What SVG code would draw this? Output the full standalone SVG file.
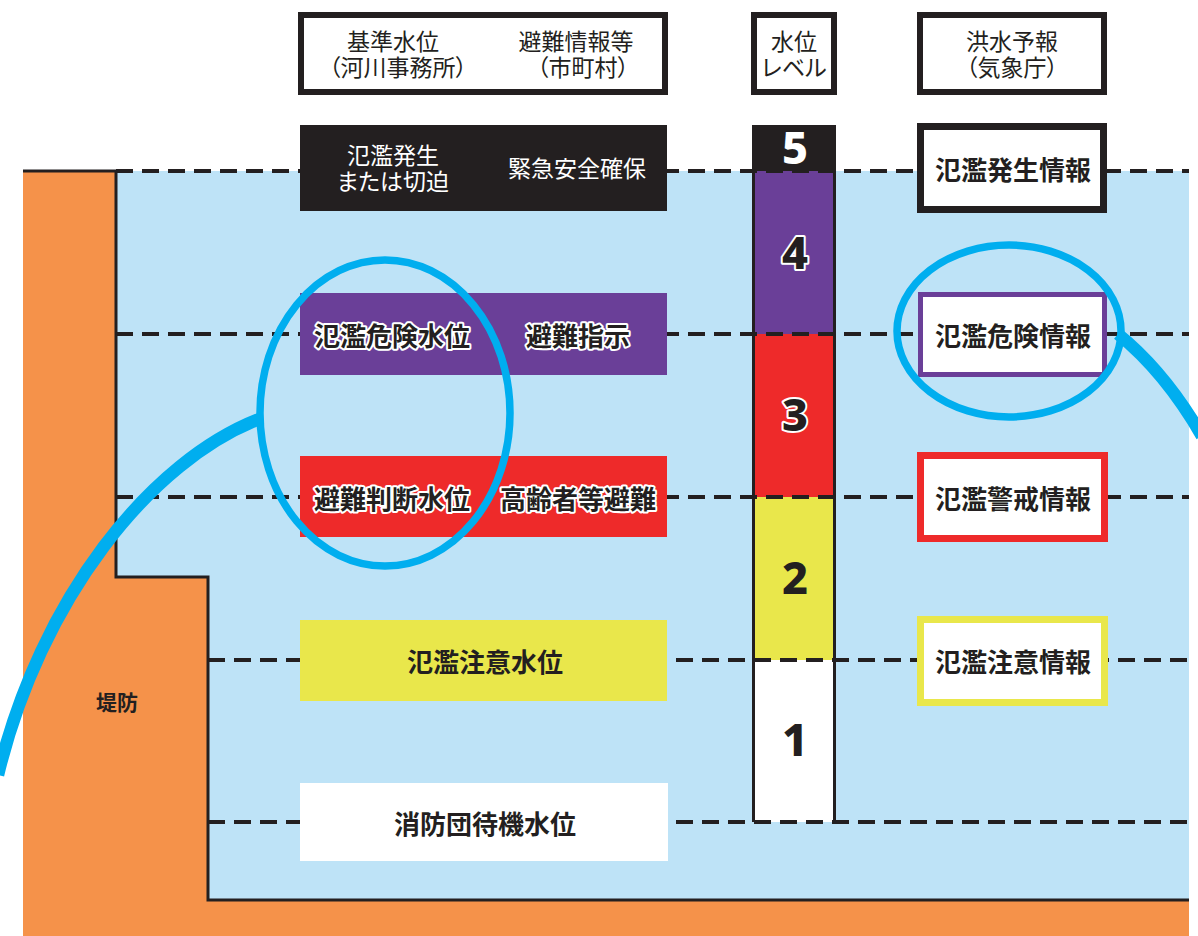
<svg xmlns="http://www.w3.org/2000/svg" width="1198" height="936" viewBox="0 0 1198 936">
  <style>
    .hdr { font-family: "Liberation Sans", "Noto Sans CJK JP", sans-serif; font-size: 23px; font-weight: 400; fill: #231f20; text-anchor: middle; font-feature-settings: "palt"; }
    .lbl { font-family: "Noto Sans CJK JP", "Noto Sans", sans-serif; font-size: 26px; font-weight: 700; fill: #231f20; text-anchor: middle; dominant-baseline: central; }
    .wht { fill: #ffffff; font-weight: 400; font-size: 23px; font-feature-settings: "palt"; }
    .out { stroke: #ffffff; stroke-width: 4px; paint-order: stroke; stroke-linejoin: round; }
    .num { font-family: "Noto Sans", "DejaVu Sans", sans-serif; font-size: 45px; font-weight: 800; fill: #231f20; text-anchor: middle; }
    .dash { stroke: #231f20; stroke-width: 4; stroke-dasharray: 17 9; fill: none; }
    .loop { fill: none; stroke: #00aeef; stroke-width: 7.5; }
    .handle { fill: none; stroke: #00aeef; stroke-width: 12.5; }
  </style>

  <rect x="0" y="0" width="1198" height="936" fill="#ffffff"/>

  <g id="embankment">
    <path d="M23,171 H116 V577 H208 V900 H1189 V936 H23 Z" fill="#f5924a"/>
    <line x1="23" y1="171" x2="116" y2="171" stroke="#231f20" stroke-width="3"/>
    <text class="lbl" x="117" y="701" style="font-size:21px">堤防</text>
  </g>

  <g id="river">
    <path d="M116,171 H1189 V900 H208 V577 H116 Z" fill="#bee3f7"/>
    <path d="M116,171 V577 H208 V900 H1189" fill="none" stroke="#231f20" stroke-width="3"/>
  </g>

  <g id="level-column">
    <rect x="752" y="125" width="84" height="46" fill="#231f20"/>
    <rect x="752" y="171" width="84" height="163" fill="#6a3f98"/>
    <rect x="752" y="334" width="84" height="163" fill="#ee2a2a"/>
    <rect x="752" y="497" width="84" height="163" fill="#e9e74b"/>
    <rect x="752" y="660" width="84" height="162" fill="#ffffff"/>
    <line x1="753.5" y1="125" x2="753.5" y2="822" stroke="#231f20" stroke-width="3"/>
    <line x1="834.5" y1="125" x2="834.5" y2="822" stroke="#231f20" stroke-width="3"/>
  </g>

  <g id="connectors">
    <line class="dash" x1="116" y1="171" x2="1189" y2="171"/>
    <line class="dash" x1="116" y1="334" x2="1189" y2="334"/>
    <line class="dash" x1="116" y1="497" x2="1189" y2="497"/>
    <line class="dash" x1="208" y1="660" x2="1189" y2="660"/>
    <line class="dash" x1="208" y1="822" x2="1189" y2="822"/>
  </g>

  <g id="header-left">
    <rect x="301" y="15" width="364" height="77" fill="#ffffff" stroke="#231f20" stroke-width="6"/>
    <text class="hdr" x="393" y="50">基準水位</text>
    <text class="hdr" x="398" y="76">（河川事務所）</text>
    <text class="hdr" x="576" y="50">避難情報等</text>
    <text class="hdr" x="583" y="76">（市町村）</text>
  </g>
  <g id="header-level">
    <rect x="754" y="15" width="80" height="77" fill="#ffffff" stroke="#231f20" stroke-width="6"/>
    <text class="hdr" x="794" y="50">水位</text>
    <text class="hdr" x="794" y="76">レベル</text>
  </g>
  <g id="header-forecast">
    <rect x="920" y="15" width="184" height="77" fill="#ffffff" stroke="#231f20" stroke-width="6"/>
    <text class="hdr" x="1012" y="50">洪水予報</text>
    <text class="hdr" x="1012" y="76">（気象庁）</text>
  </g>

  <g id="bar-level5">
    <rect x="300" y="125" width="367" height="86" fill="#231f20"/>
    <text class="hdr wht" x="393" y="164">氾濫発生</text>
    <text class="hdr wht" x="393" y="190">または切迫</text>
    <text class="hdr wht" x="577" y="177">緊急安全確保</text>
  </g>
  <g id="bar-level4">
    <rect x="300" y="293" width="367" height="82" fill="#6a3f98"/>
  </g>
  <g id="bar-level3">
    <rect x="300" y="456" width="367" height="81" fill="#ee2a2a"/>
  </g>
  <g id="bar-level2">
    <rect x="300" y="620" width="367" height="81" fill="#e9e74b"/>
    <text class="lbl" x="485" y="660">氾濫注意水位</text>
  </g>
  <g id="bar-level1">
    <rect x="300" y="783" width="368" height="78" fill="#ffffff"/>
    <text class="lbl" x="485" y="822">消防団待機水位</text>
  </g>

  <g id="info-5">
    <rect x="920.5" y="126.5" width="183" height="83" fill="#ffffff" stroke="#231f20" stroke-width="7"/>
    <text class="lbl" x="1013" y="168">氾濫発生情報</text>
  </g>
  <g id="info-4">
    <rect x="920.5" y="294.5" width="184" height="80" fill="#ffffff" stroke="#6a3f98" stroke-width="5"/>
    <text class="lbl" x="1013" y="334">氾濫危険情報</text>
  </g>
  <g id="info-3">
    <rect x="920.5" y="455.5" width="184" height="83" fill="#ffffff" stroke="#ee2a2a" stroke-width="7"/>
    <text class="lbl" x="1013" y="497">氾濫警戒情報</text>
  </g>
  <g id="info-2">
    <rect x="920.5" y="619.5" width="184" height="83" fill="#ffffff" stroke="#e9e74b" stroke-width="7"/>
    <text class="lbl" x="1013" y="660">氾濫注意情報</text>
  </g>

  <g id="magnifier-left">
    <ellipse class="loop" cx="385" cy="413" rx="125" ry="153"/>
    <path class="handle" d="M262,418 C150,460 40,600 -2,775"/>
  </g>
  <g id="magnifier-right">
    <ellipse class="loop" cx="1009" cy="331" rx="112" ry="86"/>
    <path class="handle" d="M1118,334 Q1165,372 1202,436"/>
  </g>

  <g id="bar-labels">
    <text class="lbl out" x="392" y="334">氾濫危険水位</text>
    <text class="lbl out" x="578" y="334">避難指示</text>
    <text class="lbl out" x="392" y="497">避難判断水位</text>
    <text class="lbl out" x="578" y="497">高齢者等避難</text>
  </g>

  <g id="level-numbers">
    <text class="num" x="795" y="164" style="fill:#ffffff">5</text>
    <text class="num out" x="795" y="269">4</text>
    <text class="num out" x="795" y="431">3</text>
    <text class="num" x="795" y="594">2</text>
    <text class="num" x="795" y="756">1</text>
  </g>
</svg>
